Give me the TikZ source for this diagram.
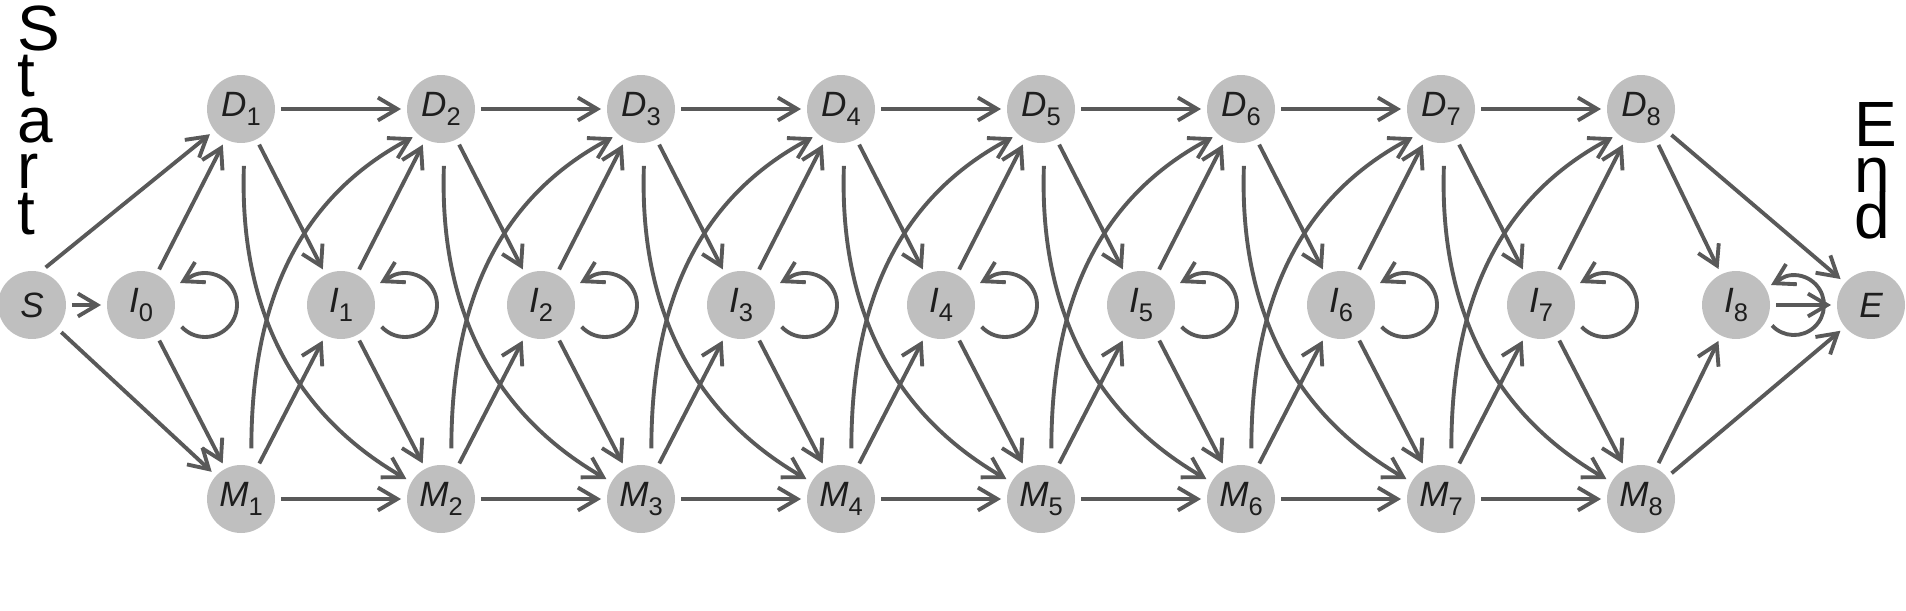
\documentclass[tikz,border=0pt]{standalone}
\usepackage{fontspec}
\setmainfont{Liberation Sans}
\usetikzlibrary{arrows.meta}

\definecolor{edgegray}{HTML}{595959}
\definecolor{stategray}{HTML}{BFBFBF}
\definecolor{labelblack}{HTML}{1E1E1E}

\newcommand{\subidx}[1]{\raisebox{-5.5pt}{\fontsize{14.5}{15}\selectfont\upshape #1}}
\setlength{\lineskiplimit}{-20pt}

\begin{document}
\begin{tikzpicture}[
    x=0.02cm, y=0.02cm,
    state/.style={circle, fill=stategray, minimum size=1.36cm, inner sep=0pt, outer sep=0.12cm, text=labelblack, font=\fontsize{20}{22}\selectfont\itshape},
    edge/.style={draw=edgegray, line width=2.2pt, -{Straight Barb[length=11pt, width=13pt]}},
    downcurve/.style={edge, shorten <=0.34cm},
    upcurve/.style={edge, shorten <=0.24cm},
    bigtext/.style={align=left, inner sep=0pt, anchor=north west, font=\fontsize{36.4}{26.2}\selectfont}
]
\useasboundingbox (0,0) rectangle (1906,610);

    % Start and end states
    \node[state] (S) at (32,305) {S};
    \node[state] (E) at (1871,305) {E};

    % Insert states
    \foreach \i in {0,...,7}
        \node[state] (I\i) at ({141+200*\i},305) {I\subidx{\i}};
    \node[state] (I8) at (1736,305) {I\subidx{8}};

    % Delete and match states
    \foreach \i in {1,...,8} {
        \node[state] (D\i) at ({41+200*\i},501) {D\subidx{\i}};
        \node[state] (M\i) at ({41+200*\i},111) {M\subidx{\i}};
    }

    % Side labels
    \node[bigtext] (startlabel) at (17,605) {S\\t\\a\\r\\t};
    \node[bigtext] (endlabel) at (1854,508) {E\\n\\d};

    % Transitions out of the start
    \draw[edge] (S) -- (I0);
    \draw[edge] (S.70) -- (D1);
    \draw[edge] (S) -- (M1);
    \draw[edge] (I0) -- (D1);
    \draw[edge] (I0) -- (M1);

    % Transitions between columns
    \foreach \i in {1,...,7} {
        \pgfmathtruncatemacro{\n}{\i+1}
        \draw[edge] (D\i) -- (D\n);
        \draw[edge] (M\i) -- (M\n);
        \draw[edge] (D\i) -- (I\i);
        \draw[edge] (M\i) -- (I\i);
        \draw[edge] (I\i) -- (D\n);
        \draw[edge] (I\i) -- (M\n);
        \draw[downcurve] (D\i.-85) to[out=-92, in=150] (M\n);
        \draw[upcurve] (M\i.75) to[out=90, in=208] (D\n.225);
    }

    % Transitions into the end
    \draw[edge] (D8) -- (I8);
    \draw[edge] (M8) -- (I8);
    \draw[edge] (D8) -- (E);
    \draw[edge] (M8) -- (E);
    \draw[edge] (I8) -- (E);

    % Insert loops
    \foreach \i in {0,...,7}
        \draw[edge] ([shift={(40.6,-21.8)}]I\i.center) arc[start angle=-137, end angle=95, radius=32]
            to[out=185, in=28] ([shift={(39,22)}]I\i.center);
    \draw[edge] ([shift={(36,-20.5)}]I8.center) arc[start angle=-137, end angle=95, radius=30]
        to[out=185, in=28] ([shift={(35,20)}]I8.center);

\end{tikzpicture}
\end{document}
